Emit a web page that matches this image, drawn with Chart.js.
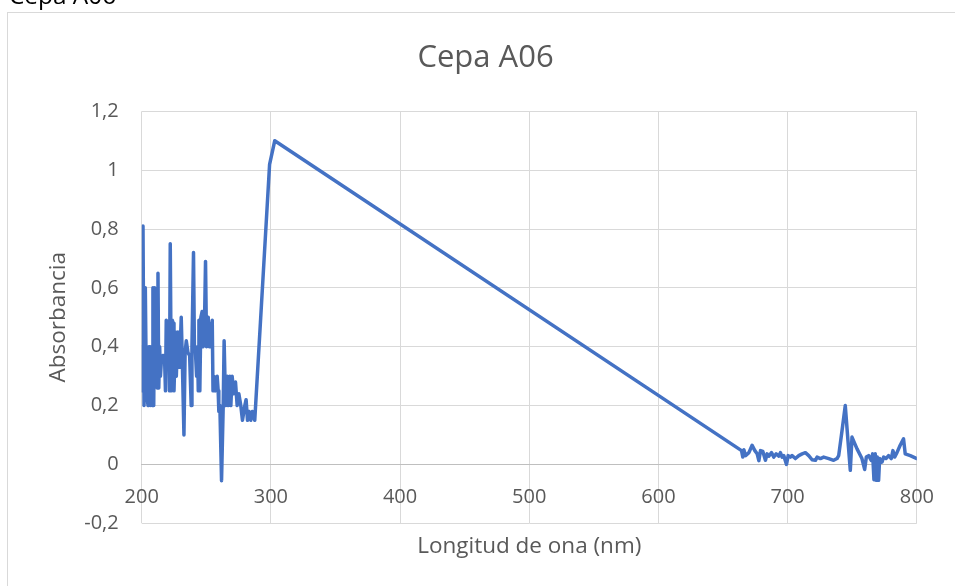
<!DOCTYPE html>
<html>
<head>
<meta charset="utf-8">
<title>Cepa A06</title>
<script src="https://cdn.jsdelivr.net/npm/chart.js@4"></script>
<style>
  html, body { margin: 0; padding: 0; background: #ffffff; overflow: hidden; }
  #wrap { position: relative; width: 955px; height: 586px; }
  #chart { position: absolute; left: 0; top: 0; }
  #sheetLabel {
    position: absolute; left: 9px; top: -20px;
    font-family: 'Open Sans', sans-serif; font-size: 24.4px; line-height: 30px;
    color: #000000; white-space: nowrap; z-index: 2;
  }
</style>
</head>
<body>
<div id="wrap">
  <div id="sheetLabel">Cepa A06</div>
  <canvas id="chart" width="955" height="586"></canvas>
</div>
<script>
// Absorbance spectrum of strain A06 (wavelength in nm)
const wavelengthNm = [
  200.0, 200.4, 201.0, 201.8, 202.8, 203.6, 204.9, 205.5, 206.2, 206.8,
  207.4, 208.0, 208.7, 209.3, 210.0, 210.6, 211.3, 212.0, 212.6, 213.2,
  213.9, 214.5, 215.2, 216.5, 217.7, 218.4, 219.0, 220.8, 221.5, 222.1,
  222.9, 223.7, 224.4, 225.0, 226.2, 226.8, 228.0, 229.3, 230.6, 231.4,
  232.7, 233.6, 234.5, 235.8, 237.1, 238.3, 238.9, 240.1, 240.8, 241.4,
  242.5, 243.2, 243.8, 244.3, 245.0, 245.8, 246.8, 247.6, 248.5, 249.4,
  250.2, 251.5, 252.3, 252.8, 253.6, 254.6, 255.2, 255.9, 257.1, 258.4,
  259.2, 259.7, 260.5, 261.8, 263.1, 263.8, 264.9, 266.2, 266.9, 268.2,
  269.0, 270.0, 271.3, 272.6, 273.9, 275.2, 276.7, 278.0, 279.8, 280.8,
  281.9, 283.2, 284.4, 285.7, 287.5, 299.0, 303.0,
  664.3, 665.3, 666.1, 667.4, 670.0, 672.5, 674.6, 676.4, 677.7, 679.0,
  680.8, 682.8, 684.1, 685.4, 687.5, 689.3, 691.1, 693.2, 694.4, 695.7,
  697.0, 699.1, 700.4, 702.2, 703.4, 706.0, 708.6, 711.2, 713.7, 716.3,
  718.9, 721.5, 722.8, 725.3, 727.9, 731.8, 735.6, 738.2, 739.5, 742.1,
  744.6, 746.7, 748.5, 749.8, 753.7, 757.5, 759.6, 760.9, 762.7, 764.7,
  765.8, 766.8, 767.8, 768.6, 769.4, 770.4, 771.2, 773.0, 774.3, 776.1,
  778.1, 780.2, 781.5, 782.8, 784.6, 787.1, 789.7, 791.0, 794.9, 800.0
];

const absorbance = [
  0.40, 0.25, 0.81, 0.20, 0.60, 0.25, 0.20, 0.40, 0.40, 0.20,
  0.40, 0.20, 0.60, 0.20, 0.60, 0.30, 0.40, 0.26, 0.65, 0.26,
  0.40, 0.30, 0.35, 0.37, 0.36, 0.25, 0.49, 0.48, 0.25, 0.75,
  0.25, 0.49, 0.48, 0.25, 0.45, 0.30, 0.45, 0.33, 0.50, 0.36,
  0.10, 0.38, 0.42, 0.38, 0.37, 0.20, 0.40, 0.72, 0.40, 0.40,
  0.30, 0.40, 0.25, 0.49, 0.25, 0.50, 0.52, 0.40, 0.45, 0.69,
  0.40, 0.50, 0.40, 0.48, 0.40, 0.49, 0.25, 0.30, 0.25, 0.30,
  0.25, 0.18, 0.20, -0.055, 0.20, 0.42, 0.20, 0.30, 0.20, 0.30,
  0.20, 0.30, 0.24, 0.28, 0.20, 0.24, 0.20, 0.15, 0.20, 0.22,
  0.15, 0.18, 0.15, 0.18, 0.15, 1.02, 1.10,
  0.047, 0.025, 0.050, 0.030, 0.040, 0.065, 0.047, 0.036, 0.013, 0.047,
  0.044, 0.014, 0.036, 0.028, 0.040, 0.025, 0.036, 0.028, 0.040, 0.025,
  0.030, 0.000, 0.030, 0.025, 0.030, 0.020, 0.030, 0.036, 0.040, 0.030,
  0.016, 0.014, 0.025, 0.020, 0.025, 0.020, 0.014, 0.020, 0.030, 0.115,
  0.200, 0.080, -0.020, 0.093, 0.053, 0.020, -0.017, 0.025, 0.030, 0.014,
  0.036, -0.052, 0.036, -0.054, 0.025, -0.054, 0.020, 0.008, 0.025, 0.020,
  0.030, 0.020, 0.047, 0.025, 0.040, 0.065, 0.087, 0.036, 0.030, 0.020
];

// Axis ranges and tick steps
const xRange = [200, 800];
const xStep = 100;
const yRange = [-0.2, 1.2];
const yStep = 0.2;

const chartTitle = 'Cepa A06';
const xAxisTitle = 'Longitud de ona (nm)';
const yAxisTitle = 'Absorbancia';

const textColor = '#595959';
const gridColor = '#d9d9d9';
const lineColor = '#4472C4';

Chart.defaults.font.family = "'Open Sans', sans-serif";

// Light outer frame around the chart object
const chartFrame = {
  id: 'chartFrame',
  beforeDraw(chart) {
    const ctx = chart.ctx;
    ctx.save();
    ctx.fillStyle = '#ffffff';
    ctx.fillRect(0, 0, chart.width, chart.height);
    ctx.strokeStyle = '#d9d9d9';
    ctx.lineWidth = 1;
    ctx.strokeRect(7.5, 12.5, chart.width + 20, chart.height + 20);
    ctx.restore();
  }
};

const points = wavelengthNm.map((x, i) => ({ x: x, y: absorbance[i] }));

new Chart(document.getElementById('chart'), {
  type: 'line',
  data: {
    datasets: [{
      data: points,
      borderColor: lineColor,
      borderWidth: 3.5,
      borderJoinStyle: 'round',
      borderCapStyle: 'round',
      pointRadius: 0,
      tension: 0,
      fill: false
    }]
  },
  options: {
    responsive: false,
    devicePixelRatio: 1,
    animation: false,
    layout: { padding: { left: 52.7, right: 36.7, top: 0, bottom: 0 } },
    scales: {
      x: {
        type: 'linear',
        position: { y: 0 },
        min: xRange[0],
        max: xRange[1],
        ticks: {
          stepSize: xStep,
          padding: 21,
          color: textColor,
          font: { size: 20 },
          maxRotation: 0,
          autoSkip: false
        },
        grid: { color: gridColor, lineWidth: 1, drawTicks: false },
        border: { display: true, color: '#bfbfbf', width: 1 }
      },
      y: {
        type: 'linear',
        min: yRange[0],
        max: yRange[1],
        ticks: {
          stepSize: yStep,
          padding: 23,
          color: textColor,
          font: { size: 20 },
          callback: (v) => String(Math.round(v * 10) / 10).replace('.', ',')
        },
        grid: { color: gridColor, lineWidth: 1, drawTicks: false },
        border: { display: false },
        title: {
          display: true,
          text: yAxisTitle,
          color: textColor,
          font: { size: 22.5 },
          padding: { top: -7.7, bottom: 0 }
        },
        afterFit(scale) { scale.width = 89; }
      }
    },
    plugins: {
      legend: { display: false },
      tooltip: { enabled: false },
      title: {
        display: true,
        text: chartTitle,
        color: textColor,
        font: { size: 31, weight: 'normal' },
        padding: { top: 39.5, bottom: 34.6 }
      },
      subtitle: {
        display: true,
        position: 'bottom',
        fullSize: false,
        text: xAxisTitle,
        color: textColor,
        font: { size: 22.5, weight: 'normal' },
        padding: { top: 10.2, bottom: 25.5 }
      }
    }
  },
  plugins: [chartFrame]
});
</script>
</body>
</html>
